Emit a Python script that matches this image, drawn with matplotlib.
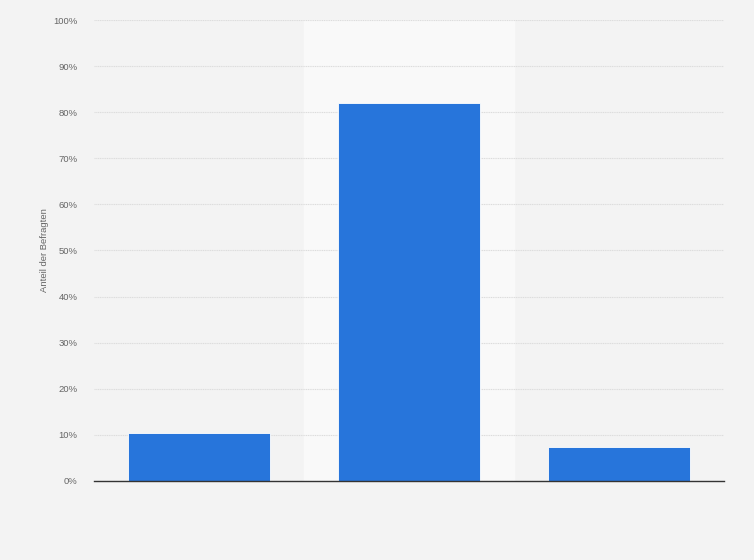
import numpy as np
import matplotlib.pyplot as plt

plt.rcParams['font.family'] = ['Liberation Sans', 'DejaVu Sans']

# values (share of respondents, %)
categories = ['', '', '']
values = [10.5, 82.0, 7.3]
yticks = [0, 10, 20, 30, 40, 50, 60, 70, 80, 90, 100]

fig = plt.figure(figsize=(7.54, 5.6), dpi=100)
fig.patch.set_facecolor('#f3f3f3')
ax = fig.add_axes([94/754, 79/560, 630/754, 461/560])
ax.set_facecolor('#f3f3f3')

x = np.arange(len(values))
ax.set_xlim(-0.5, len(values) - 0.5)
ax.set_ylim(0, 100)

# lighter band behind the middle category
ax.axvspan(0.5, 1.5, color='#f9f9f9', zorder=0)

ax.set_yticks(yticks)
ax.set_yticklabels([f'{t}%' for t in yticks])
ax.yaxis.grid(True, color='#dcdcdc', linestyle=(0, (1, 0.6)), linewidth=0.8)
ax.set_axisbelow(True)

ax.bar(x, values, width=0.68, color='#2775db', edgecolor='white',
       linewidth=0.6, zorder=3)

ax.set_xticks(x)
ax.set_xticklabels(categories)
ax.tick_params(axis='x', length=0)
ax.tick_params(axis='y', length=0, labelsize=6.8, labelcolor='#666666', pad=12)

for side in ['top', 'right', 'left']:
    ax.spines[side].set_visible(False)
ax.spines['bottom'].set_color('#333333')
ax.spines['bottom'].set_linewidth(1.0)
ax.spines['bottom'].set_zorder(4)

ax.set_ylabel('Anteil der Befragten', fontsize=6.8, color='#666666', labelpad=3)

fig.savefig('out.png', dpi=100, facecolor=fig.get_facecolor())
